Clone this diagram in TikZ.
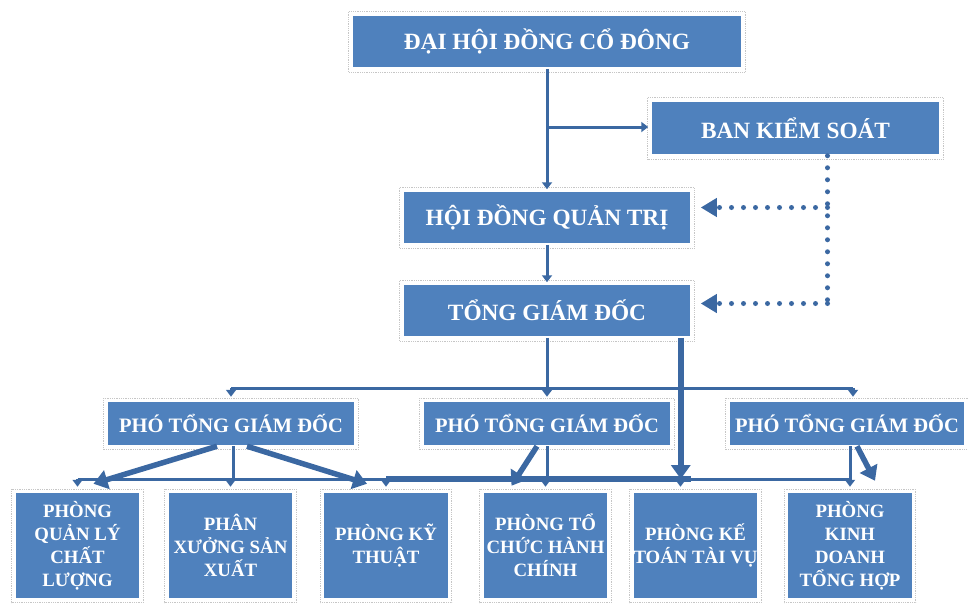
\documentclass[tikz,border=0pt]{standalone}
\usepackage{fontspec}
\setmainfont{Liberation Serif}
\usepackage{tikz}
\usetikzlibrary{arrows.meta}
\definecolor{boxblue}{HTML}{4F81BD}
\definecolor{lineblue}{HTML}{3B68A2}

\begin{document}
\begin{tikzpicture}[x=1pt, y=-1pt,
  unit/.style={fill=boxblue, draw=white, line width=1.5pt, text=white,
    font=\bfseries\fontsize{23.3}{26}\selectfont, inner sep=0pt, minimum height=53pt},
  deputy/.style={unit, font=\bfseries\fontsize{20.5}{23}\selectfont,
    minimum width=248pt, minimum height=44pt},
  dept/.style={unit, font=\bfseries\fontsize{18.8}{23}\selectfont, align=center,
    minimum width=125pt, minimum height=106pt},
  frame/.style={draw=gray!45, densely dotted, line width=0.8pt},
  wire/.style={lineblue, line width=3pt},
  link/.style={wire, -{Triangle[length=7pt,width=10pt]}},
  heavy/.style={lineblue, line width=5.5pt, -{Triangle[length=14pt,width=19pt]}},
  dots/.style={lineblue, line width=5pt, line cap=round, dash pattern=on 0pt off 12pt},
  dotarrow/.style={dots, shorten >=9pt, -{Triangle[length=16pt,width=18pt]}}]
\useasboundingbox (0,0) rectangle (968,603);

% top level
\node[unit, minimum width=390pt] (dhcd) at (547,41.5) {ĐẠI HỘI ĐỒNG CỔ ĐÔNG};
\node[unit, minimum width=289pt, minimum height=54pt] (bks) at (795.5,128) {BAN KIỂM SOÁT};
\node[unit, minimum width=288pt] (hdqt) at (547,217.5) {HỘI ĐỒNG QUẢN TRỊ};
\node[unit, minimum width=288pt] (tgd) at (547,310.5) {TỔNG GIÁM ĐỐC};

% deputies
\node[deputy] (pho1) at (231,423.5) {PHÓ TỔNG GIÁM ĐỐC};
\node[deputy] (pho2) at (547,423.5) {PHÓ TỔNG GIÁM ĐỐC};
\node[deputy, minimum width=236pt] (pho3) at (847,423.5) {PHÓ TỔNG GIÁM ĐỐC};

% departments
\node[dept] (qlcl) at (77.5,545.5) {PHÒNG\\QUẢN LÝ\\CHẤT\\LƯỢNG};
\node[dept] (pxsx) at (230.5,545.5) {PHÂN\\XƯỞNG SẢN\\XUẤT};
\node[dept] (pkt) at (386,545.5) {PHÒNG KỸ\\THUẬT};
\node[dept] (tchc) at (545.5,545.5) {PHÒNG TỔ\\CHỨC HÀNH\\CHÍNH};
\node[dept] (ktv) at (695.5,545.5) {PHÒNG KẾ\\TOÁN TÀI VỤ};
\node[dept] (kdth) at (850,545.5) {PHÒNG\\KINH\\DOANH\\TỔNG HỢP};

\foreach \n in {dhcd,bks,hdqt,tgd,pho1,pho2,pho3,qlcl,pxsx,pkt,tchc,ktv,kdth}
  \draw[frame] ([shift={(-2.5,-2.5)}]\n.north west) rectangle ([shift={(2.5,3.5)}]\n.south east);

% general meeting, board, supervisors
\coordinate (split) at (547,127);
\draw[link, shorten >=1pt] (dhcd) -- (hdqt);
\draw[link, shorten >=2pt] (split) -- (bks.west |- split);
\draw[link, shorten >=1pt] (hdqt) -- (tgd);

\coordinate (wd) at ([xshift=32pt]bks.south);
\coordinate (w1) at ([yshift=10pt]hdqt.east);
\coordinate (w2) at ([yshift=7pt]tgd.east);
\draw[dots] (wd) -- (wd |- w2);
\draw[dotarrow] (wd |- w1) -- (w1);
\draw[dotarrow] (wd |- w2) -- (w2);

% director to deputies
\coordinate (upbus) at (0,388);
\coordinate (lowbus) at (0,479);
\draw[wire] (tgd.south) -- (tgd.south |- upbus);
\draw[wire] (pho1.north |- upbus) -- ([xshift=6pt]pho3.north |- upbus);
\draw[link, shorten >=4pt] (pho1.north |- upbus) -- (pho1.north);
\draw[link, shorten >=4pt] (pho2.north |- upbus) -- (pho2.north);
\draw[link, shorten >=4pt] ([xshift=6pt]pho3.north |- upbus) -- ([xshift=6pt]pho3.north);

% deputies to departments
\draw[wire] (qlcl.north |- lowbus) -- (kdth.north |- lowbus);
\draw[wire, line width=5.5pt] (pkt.north |- lowbus) -- ([xshift=-5pt]ktv.north |- lowbus);
\draw[wire] ([xshift=2pt]pho1.south) -- ([xshift=2pt]pho1.south |- lowbus);
\draw[wire] (pho2.south) -- (pho2.south |- lowbus);
\draw[wire] ([xshift=3pt]pho3.south) -- ([xshift=3pt]pho3.south |- lowbus);
\foreach \n in {qlcl,pxsx,pkt,tchc,kdth}
  \draw[link, shorten >=5pt] (\n.north |- lowbus) -- (\n.north);
\draw[link, shorten >=5pt] ([xshift=-15pt]ktv.north |- lowbus) -- ([xshift=-15pt]ktv.north);

\draw[heavy] ([xshift=-11pt]tgd.south east) -- ([xshift=-11pt]tgd.south east |- lowbus);
\draw[heavy] ([xshift=-14pt]pho1.south) -- ([xshift=16pt,yshift=8pt]qlcl.north);
\draw[heavy] ([xshift=16pt]pho1.south) -- ([xshift=-19pt,yshift=8pt]pkt.north);
\draw[heavy] ([xshift=-10pt]pho2.south) -- ([xshift=-34pt,yshift=6pt]tchc.north);
\draw[heavy] ([xshift=10pt]pho3.south) -- ([xshift=25pt,yshift=11pt]kdth.north);
\end{tikzpicture}
\end{document}
